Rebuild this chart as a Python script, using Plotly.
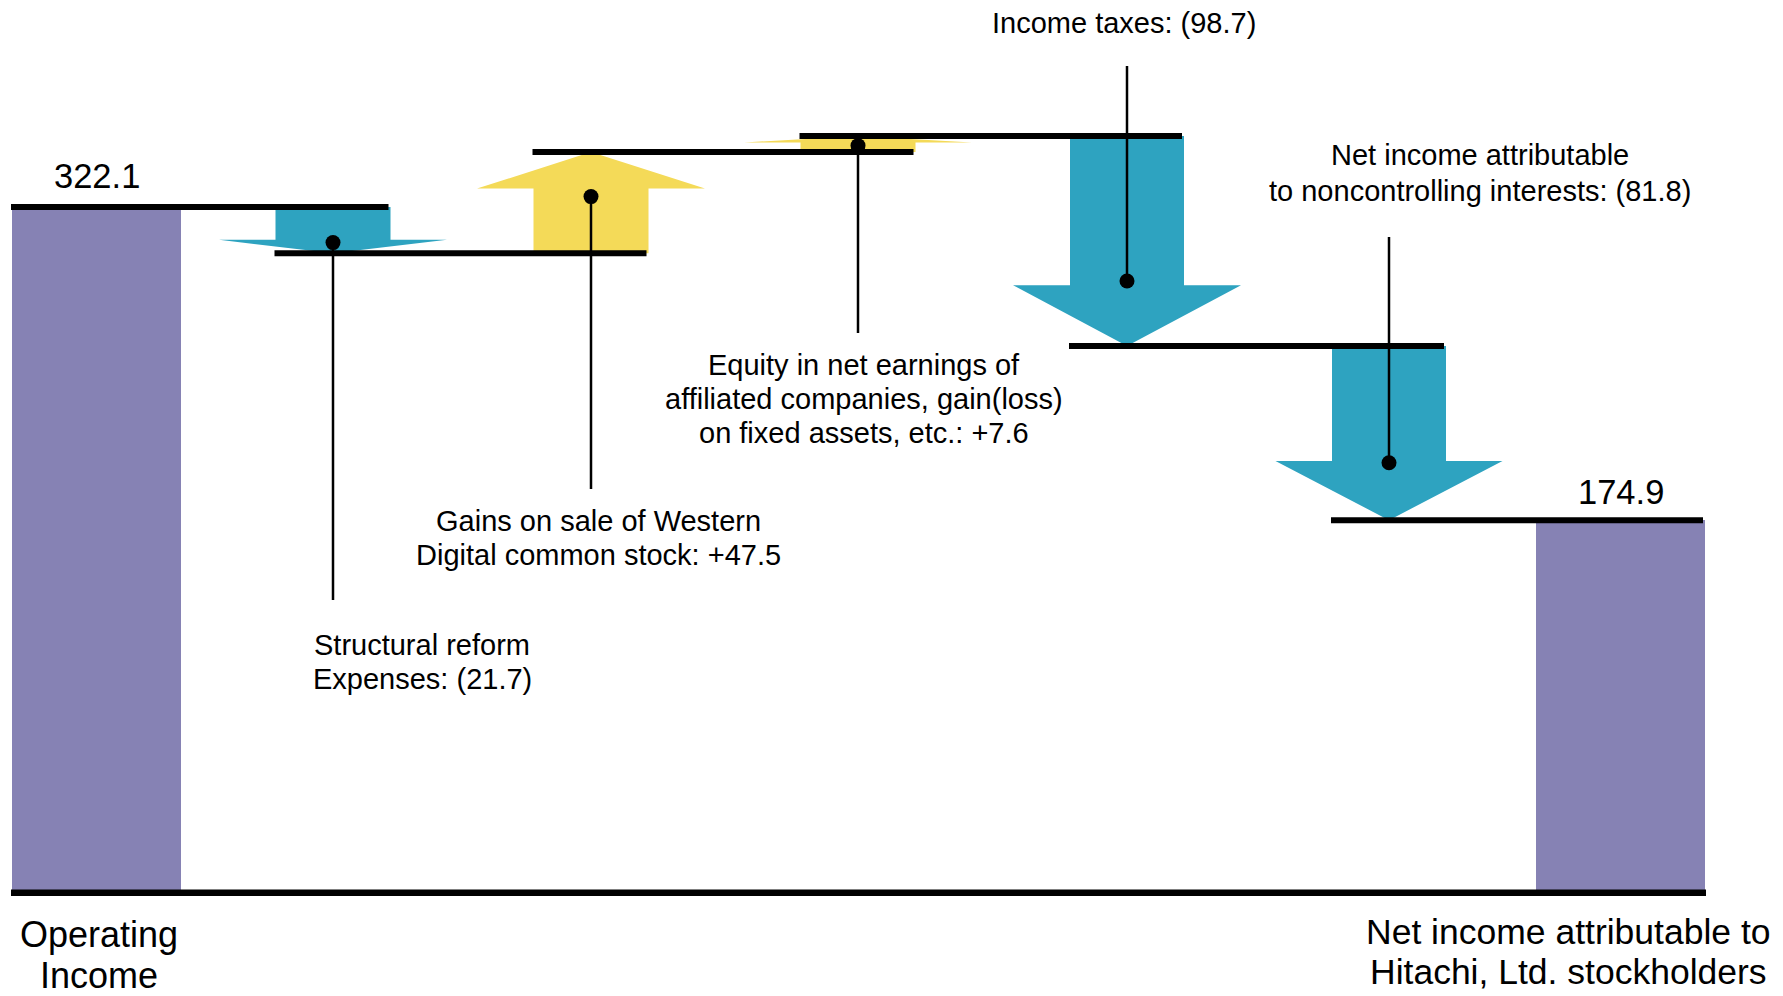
import plotly.graph_objects as go

# ---------------- data ----------------
start_value = 322.1
end_value = 174.9
value_labels = ["322.1", "174.9"]
start_label_lines = ["Operating", "Income"]
end_label_lines = ["Net income attributable to", "Hitachi, Ltd. stockholders"]
change_values = [-21.7, 47.5, 7.6, -98.7, -81.8]
change_labels = [
    ["Structural reform", "Expenses: (21.7)"],
    ["Gains on sale of Western", "Digital common stock: +47.5"],
    ["Equity in net earnings of", "affiliated companies, gain(loss)", "on fixed assets, etc.: +7.6"],
    ["Income taxes: (98.7)"],
    ["Net income attributable", "to noncontrolling interests: (81.8)"],
]

# ---------------- layout / style ----------------
W, H = 1783, 996
Y0 = 892.8      # pixel row of value 0
K = 2.129       # pixels per unit
FONT = "Arial, Liberation Sans, sans-serif"
PURPLE = "#8682B4"
TEAL = "#2EA3C0"
YELLOW = "#F4DA58"


def px_to_val(py):
    return (Y0 - py) / K


def pfx(px):
    return px / W


def pfy(py):
    return 1 - py / H


total_x = [96.5, 1620.5]
total_w = [169, 169]
arrow_x = [333, 591, 858, 1127, 1389]
body_half = [57.5, 57.5, 57.5, 57, 57]
head_half = [114, 114, 114, 114, 113.5]
head_frac = [0.29, 0.36, 0.40, 0.29, 0.34]
dot_frac = [0.77, 0.56, 0.40, 0.69, 0.67]
leader_end_px = [600, 489, 333, 66, 237]
label_x_px = [422, 598, 864, 1124, 1480]
label_line_px = [[645, 679], [521, 555], [365, 399, 433], [23], [155, 191]]

# cumulative levels
levels = [start_value]
for d in change_values:
    levels.append(levels[-1] + d)

fig = go.Figure()

# totals
fig.add_trace(go.Bar(x=total_x, y=[start_value, end_value], width=total_w,
                     marker=dict(color=PURPLE, line=dict(width=0)),
                     hoverinfo="skip"))

# arrows
for i, d in enumerate(change_values):
    s = levels[i]
    e = levels[i + 1]
    hb = e - d * head_frac[i]
    cx = arrow_x[i]
    bw, hw = body_half[i], head_half[i]
    xs = [cx - bw, cx + bw, cx + bw, cx + hw, cx, cx - hw, cx - bw, cx - bw]
    ys = [s, s, hb, hb, e, hb, hb, s]
    fig.add_trace(go.Scatter(x=xs, y=ys, mode="lines", fill="toself",
                             fillcolor=TEAL if d < 0 else YELLOW,
                             line=dict(width=0), hoverinfo="skip"))

# level lines
elem_x = [total_x[0]] + arrow_x + [total_x[1]]
elem_half = [total_w[0] / 2] + body_half + [total_w[1] / 2]
for i, lv in enumerate(levels):
    x0 = elem_x[i] - elem_half[i] - 1
    x1 = elem_x[i + 1] + elem_half[i + 1] - 2
    fig.add_trace(go.Scatter(x=[x0, x1], y=[lv, lv], mode="lines",
                             line=dict(color="black", width=6), hoverinfo="skip"))

# baseline
fig.add_trace(go.Scatter(x=[elem_x[0] - elem_half[0] - 1, elem_x[-1] + elem_half[-1] + 1],
                         y=[0, 0], mode="lines",
                         line=dict(color="black", width=6.5), hoverinfo="skip"))

# leader lines and dots
dot_x, dot_y = [], []
for i, d in enumerate(change_values):
    dv = levels[i] + d * dot_frac[i]
    cx = arrow_x[i]
    fig.add_trace(go.Scatter(x=[cx, cx], y=[dv, px_to_val(leader_end_px[i])],
                             mode="lines", line=dict(color="black", width=2.5),
                             hoverinfo="skip"))
    dot_x.append(cx)
    dot_y.append(dv)
fig.add_trace(go.Scatter(x=dot_x, y=dot_y, mode="markers",
                         marker=dict(color="black", size=15), hoverinfo="skip"))

annotations = []
# change labels
for i, lines in enumerate(change_labels):
    for txt, py in zip(lines, label_line_px[i]):
        annotations.append(dict(x=pfx(label_x_px[i]), y=pfy(py), xref="paper", yref="paper",
                                text=txt, showarrow=False, xanchor="center", yanchor="middle",
                                font=dict(family=FONT, size=29, color="black")))
# value labels
for xv, yv, txt, sh in zip(total_x, [start_value, end_value], value_labels, [31, 28]):
    annotations.append(dict(x=xv, y=yv, xref="x", yref="y", text=txt, showarrow=False,
                            xanchor="center", yanchor="middle", yshift=sh,
                            font=dict(family=FONT, size=34.5, color="black")))
# category labels
for txt, py in zip(start_label_lines, [934, 975]):
    annotations.append(dict(x=pfx(99), y=pfy(py), xref="paper", yref="paper", text=txt,
                            showarrow=False, xanchor="center", yanchor="middle",
                            font=dict(family=FONT, size=36, color="black")))
for txt, py in zip(end_label_lines, [932, 972]):
    annotations.append(dict(x=pfx(1568), y=pfy(py), xref="paper", yref="paper", text=txt,
                            showarrow=False, xanchor="center", yanchor="middle",
                            font=dict(family=FONT, size=35.5, color="black")))

fig.update_layout(
    width=W, height=H,
    margin=dict(l=0, r=0, t=0, b=0, pad=0),
    paper_bgcolor="white", plot_bgcolor="white",
    showlegend=False,
    xaxis=dict(range=[0, W], visible=False, fixedrange=True),
    yaxis=dict(range=[(Y0 - H) / K, Y0 / K], visible=False, fixedrange=True),
    annotations=annotations,
    bargap=0,
)

fig.write_html("out.html", config={"displayModeBar": False},
               post_script="document.body.style.margin='0';")
